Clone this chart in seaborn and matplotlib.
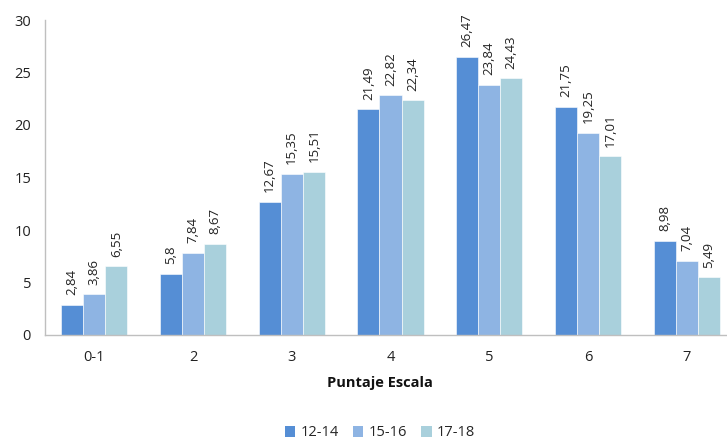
import matplotlib
matplotlib.use("Agg")
import matplotlib.pyplot as plt
import seaborn as sns
import pandas as pd
from matplotlib.patches import Patch

categories = ["0-1", "2", "3", "4", "5", "6", "7"]
series = ["12-14", "15-16", "17-18"]
v_12_14 = [2.84, 5.8, 12.67, 21.49, 26.47, 21.75, 8.98]
v_15_16 = [3.86, 7.84, 15.35, 22.82, 23.84, 19.25, 7.04]
v_17_18 = [6.55, 8.67, 15.51, 22.34, 24.43, 17.01, 5.49]
colors = ["#558ED5", "#8EB4E3", "#A9D0DC"]

rows = []
for s, vals in zip(series, [v_12_14, v_15_16, v_17_18]):
    for c, v in zip(categories, vals):
        rows.append({"cat": c, "serie": s, "val": v})
df = pd.DataFrame(rows)

sns.set_theme(style="white")
plt.rcParams['font.family'] = ['Open Sans', 'DejaVu Sans']

fig = plt.figure(figsize=(7.27, 4.42), dpi=100)
ax = fig.add_axes([45/727, 107/442, 691/727, 315/442])
sns.barplot(data=df, x="cat", y="val", hue="serie", order=categories,
            hue_order=series, palette=colors, width=0.67, gap=0,
            saturation=1, ax=ax, legend=False, edgecolor="white", linewidth=0.4)

for cont in ax.containers:
    labels = [f"{v:g}".replace(".", ",") for v in cont.datavalues]
    ax.bar_label(cont, labels=labels, rotation=90, padding=7,
                 fontsize=9.5, color="#222222")

ax.set_ylim(0, 30)
ax.set_yticks(range(0, 31, 5))
ax.set_xlim(-0.5, len(categories) - 0.5)
ax.set_xticks([i - 0.5 for i in range(len(categories) + 1)])
ax.set_xticklabels([])
ax.set_xticks(range(len(categories)), minor=True)
ax.set_xticklabels(categories, minor=True)
ax.tick_params(axis="x", which="major", length=5, color="#bfbfbf", width=1, direction="out")
ax.tick_params(axis="x", which="minor", length=0, pad=11, labelsize=10.5, labelcolor="#222222")
ax.tick_params(axis="y", length=4, color="#bfbfbf", width=1, direction="out",
               labelsize=10.5, labelcolor="#222222", pad=6)
for sp in ["top", "right"]:
    ax.spines[sp].set_visible(False)
for sp in ["left", "bottom"]:
    ax.spines[sp].set_color("#bfbfbf")
    ax.spines[sp].set_linewidth(1)

ax.set_ylabel("")
ax.set_xlabel("Puntaje Escala", fontsize=10.5, fontweight="bold", color="#111111")
ax.xaxis.set_label_coords((380 - 45) / 691, -0.13)

handles = [Patch(facecolor=c, edgecolor="none") for c in colors]
fig.legend(handles, series, loc="center", bbox_to_anchor=(380 / 727, 1 - 433 / 442),
           ncol=3, frameon=False, fontsize=10.5, handlelength=0.7, handleheight=0.7,
           handletextpad=0.35, columnspacing=1.0)

fig.savefig("out.png", dpi=100)
